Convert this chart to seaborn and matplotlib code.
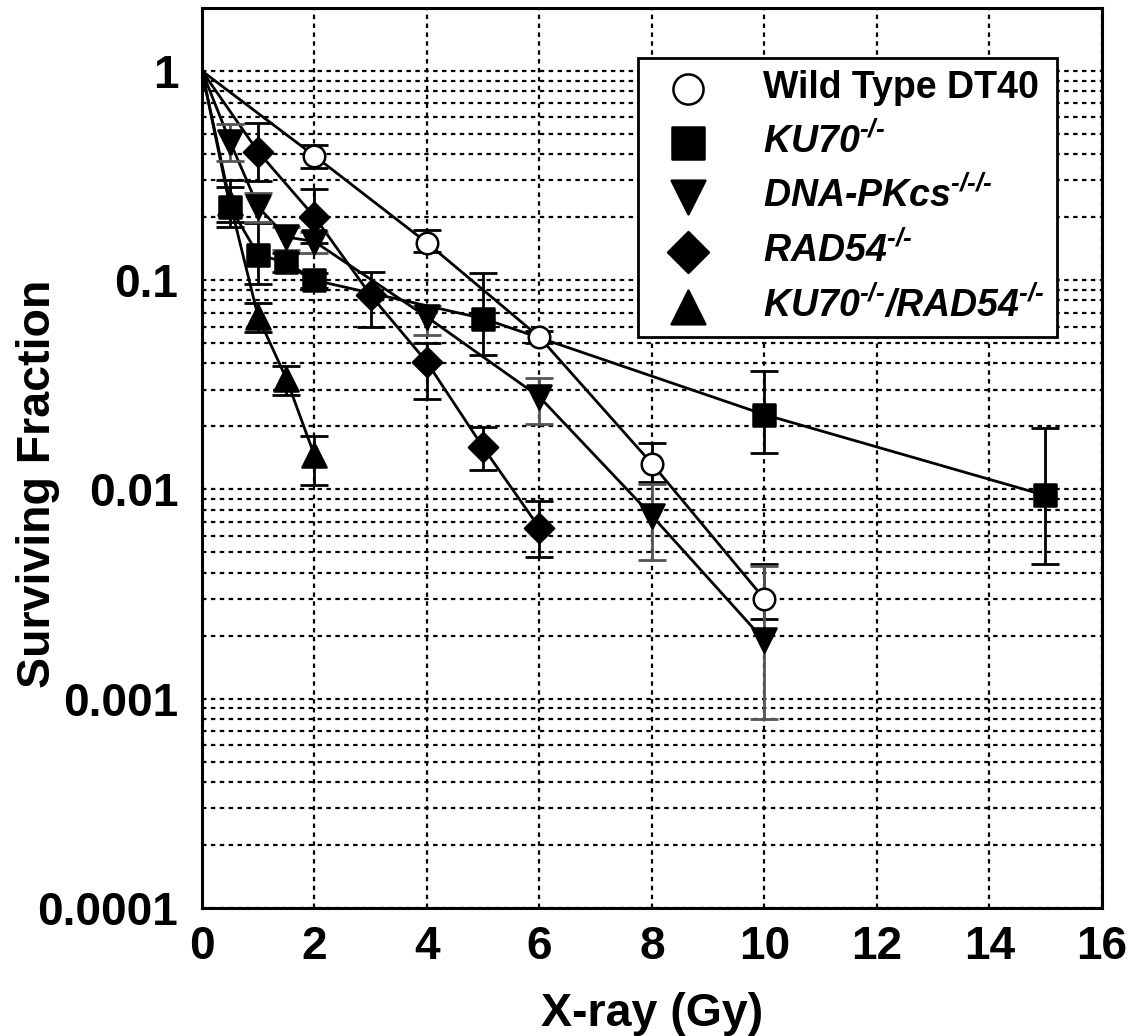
import matplotlib
matplotlib.use('Agg')
import matplotlib.pyplot as plt
import seaborn as sns
import numpy as np
import pandas as pd
from matplotlib.ticker import LogLocator, FixedLocator, NullFormatter

# data (dose in Gy, surviving fraction, error bar ends)
wt_dose = [2, 4, 6, 8, 10]
wt_sf = [0.393, 0.151, 0.0535, 0.0133, 0.0030]
wt_lo = [0.343, 0.136, 0.050, 0.0108, 0.0024]
wt_hi = [0.445, 0.173, 0.057, 0.0166, 0.0044]

ku_dose = [0.5, 1, 1.5, 2, 5, 10, 15]
ku_sf = [0.224, 0.132, 0.122, 0.100, 0.0656, 0.0228, 0.00936]
ku_lo = [0.18, 0.096, 0.110, 0.092, 0.0437, 0.0149, 0.0044]
ku_hi = [0.28, 0.187, 0.135, 0.108, 0.108, 0.0367, 0.0197]

pk_dose = [0.5, 1, 1.5, 2, 4, 6, 8, 10]
pk_sf = [0.459, 0.224, 0.161, 0.153, 0.0667, 0.0277, 0.0075, 0.0019]
pk_lo = [0.37, 0.19, 0.14, 0.135, 0.055, 0.0205, 0.0046, 0.0008]
pk_hi = [0.56, 0.26, 0.18, 0.17, 0.075, 0.034, 0.0106, 0.0043]

rad_dose = [1, 2, 3, 4, 5, 6]
rad_sf = [0.411, 0.201, 0.0848, 0.0406, 0.0159, 0.00656]
rad_lo = [0.297, 0.15, 0.0598, 0.0271, 0.0124, 0.00478]
rad_hi = [0.567, 0.273, 0.11, 0.05, 0.0198, 0.0088]

dko_dose = [0.5, 1, 1.5, 2]
dko_sf = [0.235, 0.0667, 0.0339, 0.01455]
dko_lo = [0.19, 0.0565, 0.0283, 0.0105]
dko_hi = [0.30, 0.078, 0.0387, 0.018]

labels = ['Wild Type DT40', r'KU70$^{\text{-/-}}$', r'DNA-PKcs$^{\text{-/-/-}}$',
          r'RAD54$^{\text{-/-}}$', r'KU70$^{\text{-/-}}$/RAD54$^{\text{-/-}}$']
xticks = [0, 2, 4, 6, 8, 10, 12, 14, 16]
yticks = [1e-4, 1e-3, 1e-2, 1e-1, 1]
yticklabels = ['0.0001', '0.001', '0.01', '0.1', '1']

series = [
    (wt_dose, wt_sf, wt_lo, wt_hi),
    (ku_dose, ku_sf, ku_lo, ku_hi),
    (pk_dose, pk_sf, pk_lo, pk_hi),
    (rad_dose, rad_sf, rad_lo, rad_hi),
    (dko_dose, dko_sf, dko_lo, dko_hi),
]
markers = ['o', 's', 'v', 'D', '^']
faces = ['white', 'black', 'black', 'black', 'black']
msizes = [240, 260, 300, 220, 300]
err_colors = ['black', 'black', '#555555', 'black', 'black']

sns.set_style('white')
plt.rcParams['font.family'] = ['Liberation Sans', 'DejaVu Sans']
plt.rcParams['font.weight'] = 'bold'
for k in ['text.color', 'axes.labelcolor', 'xtick.color', 'ytick.color']:
    plt.rcParams[k] = 'black'
plt.rcParams['mathtext.fontset'] = 'custom'
plt.rcParams['mathtext.rm'] = 'Liberation Sans:bold:italic'
plt.rcParams['mathtext.it'] = 'Liberation Sans:bold:italic'
plt.rcParams['mathtext.bf'] = 'Liberation Sans:bold:italic'

fig = plt.figure(figsize=(11.34, 10.36), dpi=100)
ax = fig.add_axes([0.1781, 0.1236, 0.7934, 0.8687])

rows = []
for i, (d, s, lo, hi) in enumerate(series):
    # every curve starts at SF = 1 at 0 Gy
    for x, y in zip([0] + list(d), [1.0] + list(s)):
        rows.append({'dose': x, 'sf': y, 'line': labels[i]})
curves = pd.DataFrame(rows)

sns.lineplot(data=curves, x='dose', y='sf', hue='line',
             palette=['black'] * len(labels), estimator=None, sort=False,
             linewidth=2.0, legend=False, ax=ax, zorder=2)

for i, (d, s, lo, hi) in enumerate(series):
    s = np.array(s)
    yerr = np.vstack([s - np.array(lo), np.array(hi) - s])
    ax.errorbar(d, s, yerr=yerr, fmt='none', ecolor=err_colors[i],
                elinewidth=2.0, capsize=10, capthick=2.0, zorder=3)
    pts = pd.DataFrame({'dose': d, 'sf': s})
    sns.scatterplot(data=pts, x='dose', y='sf', marker=markers[i],
                    color=faces[i], edgecolor='black', linewidth=1.8,
                    s=msizes[i], label=labels[i], ax=ax, zorder=4)

ax.set_yscale('log')
ax.set_xlim(0, 16)
ax.set_ylim(1e-4, 2)
ax.set_xticks(xticks)
ax.set_xticklabels([str(t) for t in xticks])
ax.yaxis.set_major_locator(FixedLocator(yticks))
ax.set_yticklabels(yticklabels)
ax.yaxis.set_minor_locator(LogLocator(base=10, subs=np.arange(2, 10), numticks=20))
ax.yaxis.set_minor_formatter(NullFormatter())

ax.tick_params(axis='both', which='major', labelsize=33, direction='in', width=2)
ax.tick_params(axis='y', which='major', length=14, pad=17)
ax.tick_params(axis='x', which='major', length=0, pad=12)
ax.tick_params(axis='y', which='minor', direction='in', length=9, width=2)

ax.grid(True, which='major', axis='x', color='black', linestyle=(0, (2, 2)), linewidth=1.6)
ax.grid(True, which='both', axis='y', color='black', linestyle=(0, (2, 2)), linewidth=1.6)
for sp in ax.spines.values():
    sp.set_linewidth(2.2)
    sp.set_color('black')

ax.set_xlabel('X-ray (Gy)', fontsize=33.5, fontweight='bold', labelpad=17)
ax.set_ylabel('Surviving Fraction', fontsize=33.5, fontweight='bold')
ax.yaxis.set_label_coords(-0.158, 0.4717)

handles, labs = ax.get_legend_handles_labels()
leg = ax.legend(handles, labs, loc='upper right', bbox_to_anchor=(0.950, 0.944),
                fontsize=27, frameon=True, fancybox=False, edgecolor='black',
                framealpha=1, markerscale=1.4, handletextpad=1.0,
                labelspacing=0.43, borderpad=0.32, handlelength=2.0,
                borderaxespad=0)
leg.get_frame().set_linewidth(2)
for j, t in enumerate(leg.get_texts()):
    t.set_fontweight('bold')
    if j > 0:
        t.set_fontstyle('italic')

fig.savefig('out.png', dpi=100)
